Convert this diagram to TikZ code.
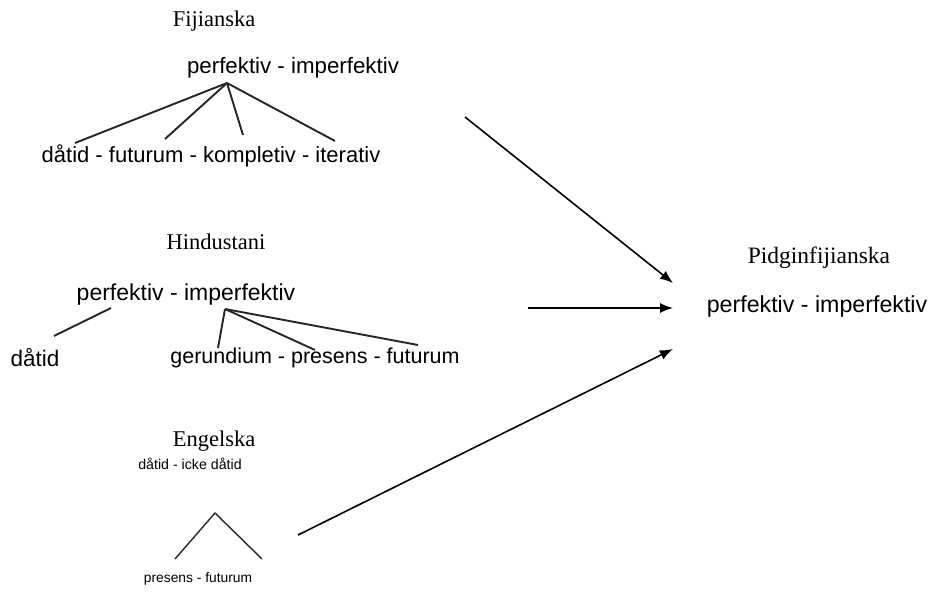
\documentclass[tikz,border=0pt]{standalone}
\usepackage{fontspec}
\setmainfont{Liberation Serif}
\newfontfamily\arialish{Liberation Sans}
\usetikzlibrary{arrows.meta}
\begin{document}
\begin{tikzpicture}[x=1pt,y=-1pt,
  title/.style={font=\fontsize{22.5}{26}\selectfont, inner sep=0pt},
  term/.style={font=\arialish\fontsize{22.5}{26}\selectfont, inner sep=0pt},
  small/.style={font=\arialish\fontsize{14.2}{17}\selectfont, inner sep=0pt},
  branch/.style={line width=1.9pt, draw=black!85},
  flow/.style={line width=1.6pt, -{Latex[length=13pt,width=10pt]}}]
\useasboundingbox[fill=white] (0,0) rectangle (929,596);

% Fijianska
\node[title] (fij) at (214,21) {Fijianska};
\node[term, font=\arialish\fontsize{22.3}{26}\selectfont] (fijp) at (293,68) {perfektiv - imperfektiv};
\node[term, font=\arialish\fontsize{22}{26}\selectfont] (fijs) at (211,156) {dåtid - futurum - kompletiv - iterativ};
\coordinate (fa) at (227,83);
\coordinate (f1) at (75,143);
\coordinate (f2) at (165,139);
\coordinate (f3) at (243,135);
\coordinate (f4) at (335,141);
\draw[branch] (fa) -- (f1);
\draw[branch] (fa) -- (f2);
\draw[branch] (fa) -- (f3);
\draw[branch] (fa) -- (f4);

% Hindustani
\node[title] (hin) at (216,242) {Hindustani};
\node[term, font=\arialish\fontsize{23}{26}\selectfont] (hinp) at (186,295) {perfektiv - imperfektiv};
\node[term] (hind) at (35,358) {dåtid};
\node[term, font=\arialish\fontsize{21.5}{26}\selectfont] (hins) at (315,358) {gerundium - presens - futurum};
\coordinate (ha) at (111,308);
\coordinate (hb) at (54,336);
\coordinate (hc) at (225,309);
\coordinate (h1) at (218,348);
\coordinate (h2) at (315,350);
\coordinate (h3) at (418,345);
\draw[branch] (ha) -- (hb);
\draw[branch] (hc) -- (h1);
\draw[branch] (hc) -- (h2);
\draw[branch] (hc) -- (h3);

% Engelska
\node[title] (eng) at (214,441) {Engelska};
\node[small] (engp) at (190,464) {dåtid - icke dåtid};
\node[small, font=\arialish\fontsize{13.8}{17}\selectfont] (engs) at (198,579) {presens - futurum};
\coordinate (ea) at (215,513);
\coordinate (e1) at (175,559);
\coordinate (e2) at (262,559);
\draw[branch, line width=1.4pt] (e1) -- (ea) -- (e2);

% Pidginfijianska
\node[title, font=\fontsize{23.5}{26}\selectfont] (pid) at (819,258) {Pidginfijianska};
\node[term, font=\arialish\fontsize{23.2}{26}\selectfont] (pidp) at (817,307) {perfektiv - imperfektiv};

% arrows
\coordinate (s1) at (465,117);
\coordinate (t1) at (673,283);
\coordinate (s2) at (528,308);
\coordinate (t2) at (673,308);
\coordinate (s3) at (298,535);
\coordinate (t3) at (673,349);
\draw[flow] (s1) -- (t1);
\draw[flow] (s2) -- (t2);
\draw[flow] (s3) -- (t3);
\end{tikzpicture}
\end{document}
